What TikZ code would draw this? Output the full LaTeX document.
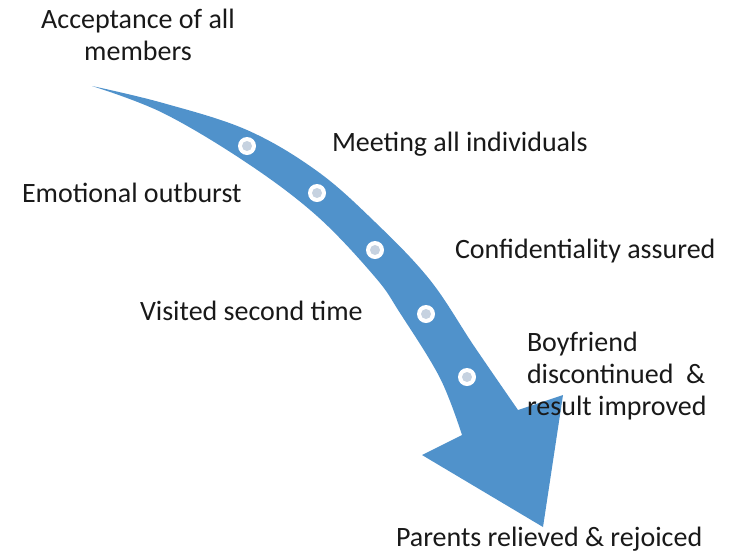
\documentclass[tikz,border=0pt]{standalone}
\usepackage{fontspec}
\setmainfont{Carlito}
\definecolor{arrowblue}{RGB}{80,146,203}
\definecolor{dotcore}{RGB}{198,210,224}
\definecolor{textgrey}{RGB}{25,25,25}
\begin{document}
\begin{tikzpicture}[x=1pt,y=-1pt,
  lbl/.style={inner sep=0pt,outer sep=0pt,text=textgrey,font=\fontsize{28}{32}\selectfont},
  dotring/.style={circle,fill=white,minimum size=18pt,inner sep=0pt},
  dotin/.style={circle,fill=dotcore,minimum size=10pt,inner sep=0pt}]
\useasboundingbox (0,0) rectangle (736,555);
% curved arrow
\fill[arrowblue]
  plot[smooth,tension=0.6] coordinates {(92,86) (163,103) (247,130) (317,171) (375,222) (430,280) (474,346) (518,410)}
  -- (563,395) -- (543,527) -- (422,455)
  -- plot[smooth,tension=0.6] coordinates {(462,435) (440,378) (400,313) (375,277) (317,216) (247,163) (163,113) (92,86)}
  -- cycle;
% dots
\foreach \n/\p in {d1/{(247,146)},d2/{(317,193)},d3/{(375,250)},d4/{(426,314)},d5/{(467,377)}}{
  \node[dotring] (\n) at \p {};
  \node[dotin] (\n c) at \p {};
}
% labels
\node[lbl,anchor=base,align=center] (accept) at (138,60) {Acceptance of all\\members};
\node[lbl,anchor=base west] (emo) at (22,202) {Emotional outburst};
\node[lbl,anchor=base west] (meet) at (332,151) {Meeting all individuals};
\node[lbl,anchor=base west] (conf) at (455,258) {Confidentiality assured};
\node[lbl,anchor=base west] (visit) at (140,320) {Visited second time};
\node[lbl,anchor=base west,align=left] (boy) at (527,415) {Boyfriend\\discontinued\ \ \&\\result improved};
\node[lbl,anchor=base west] (parents) at (396,546) {Parents relieved \& rejoiced};
\end{tikzpicture}
\end{document}
